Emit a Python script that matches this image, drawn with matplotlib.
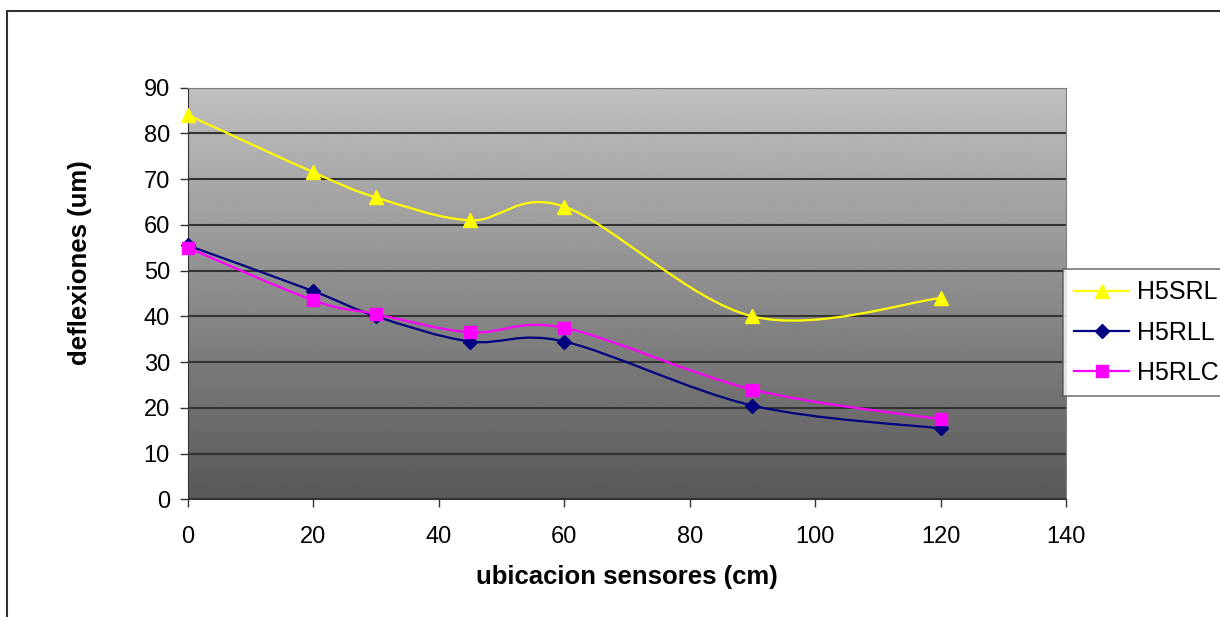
import matplotlib
matplotlib.use("Agg")
import matplotlib.pyplot as plt
import numpy as np
from matplotlib.path import Path
from matplotlib.patches import PathPatch, Rectangle
from matplotlib.lines import Line2D

plt.rcParams['font.family'] = ['Liberation Sans', 'DejaVu Sans']

# ubicacion de sensores (cm)
x_cm = [0, 20, 30, 45, 60, 90, 120]
h5srl = [84, 71.5, 66, 61, 64, 40, 44]
h5rll = [55.5, 45.5, 40, 34.5, 34.5, 20.5, 15.5]
h5rlc = [55, 43.5, 40.5, 36.5, 37.5, 24, 17.5]

series_names = ["H5SRL", "H5RLL", "H5RLC"]
x_ticks = [0, 20, 40, 60, 80, 100, 120, 140]
y_ticks = [0, 10, 20, 30, 40, 50, 60, 70, 80, 90]


def smooth_path(xs, ys):
    # curva suavizada tipo Excel (bezier con puntos de control catmull-rom)
    p = np.column_stack([xs, ys]).astype(float)
    n = len(p)
    verts = [p[0]]
    codes = [Path.MOVETO]
    for i in range(n - 1):
        p0 = p[i - 1] if i > 0 else p[i]
        p1 = p[i]
        p2 = p[i + 1]
        p3 = p[i + 2] if i + 2 < n else p[i + 1]
        c1 = p1 + (p2 - p0) / 6.0
        c2 = p2 - (p3 - p1) / 6.0
        verts += [c1, c2, p2]
        codes += [Path.CURVE4] * 3
    return Path(verts, codes)


fig = plt.figure(figsize=(12.2, 6.17), dpi=100)
ax = fig.add_axes([188/1220, 117.7/617, 878/1220, 411.6/617])

# marco exterior del grafico
fig.patches.append(Rectangle((7/1220, -0.5), 1.5, (617-11)/617 + 0.5,
                             transform=fig.transFigure, fill=False,
                             edgecolor='#333333', linewidth=1.5))

# fondo degradado (claro arriba, oscuro abajo)
grad = np.linspace(88/255, 192/255, 256).reshape(-1, 1)
ax.imshow(grad, extent=[0, 140, 0, 90], aspect='auto', cmap='gray',
          vmin=0, vmax=1, origin='lower', zorder=0, interpolation='bilinear')

colors = ['#FFFF00', '#000080', '#FF00FF']
markers = ['^', 'D', 's']
msizes = [10, 7.5, 8.5]
handles = []
for ys, c, m, ms, name in zip([h5srl, h5rll, h5rlc], colors, markers, msizes, series_names):
    ax.add_patch(PathPatch(smooth_path(x_cm, ys), fill=False, edgecolor=c,
                           linewidth=1.6, zorder=3))
    ax.plot(x_cm, ys, linestyle='none', marker=m, markersize=ms, color=c,
            markeredgecolor=c, zorder=4, clip_on=False)
    handles.append(Line2D([], [], color=c, marker=m, markersize=ms,
                          markeredgecolor=c, linewidth=1.6, label=name))

ax.set_xlim(0, 140)
ax.set_ylim(0, 90)
ax.set_xticks(x_ticks)
ax.set_yticks(y_ticks)
ax.yaxis.grid(True, color='#333333', linewidth=1.5, zorder=1)
ax.tick_params(axis='both', labelsize=17, length=6, width=1, color='#333333', direction='out')
ax.tick_params(axis='x', pad=13)
ax.tick_params(axis='y', pad=7)
for s in ['left', 'bottom']:
    ax.spines[s].set_color('#333333')
for s in ['top', 'right']:
    ax.spines[s].set_color('#808080')

ax.set_xlabel("ubicacion sensores (cm)", fontsize=18.5, fontweight='bold', va='center')
ax.set_ylabel("deflexiones (um)", fontsize=18.5, fontweight='bold', va='center')
ax.xaxis.set_label_coords(0.5, -0.189)
ax.yaxis.set_label_coords(-0.123, 0.575)

leg = fig.legend(handles=handles, loc='upper left',
                 bbox_to_anchor=(1063/1220, (617-269)/617), borderaxespad=0,
                 fontsize=18, frameon=True, fancybox=False, handlelength=2.2,
                 handletextpad=0.3, labelspacing=0.65, borderpad=0.45)
leg.get_frame().set_edgecolor('#555555')
leg.get_frame().set_linewidth(1.2)

fig.savefig("out.png", dpi=100)
